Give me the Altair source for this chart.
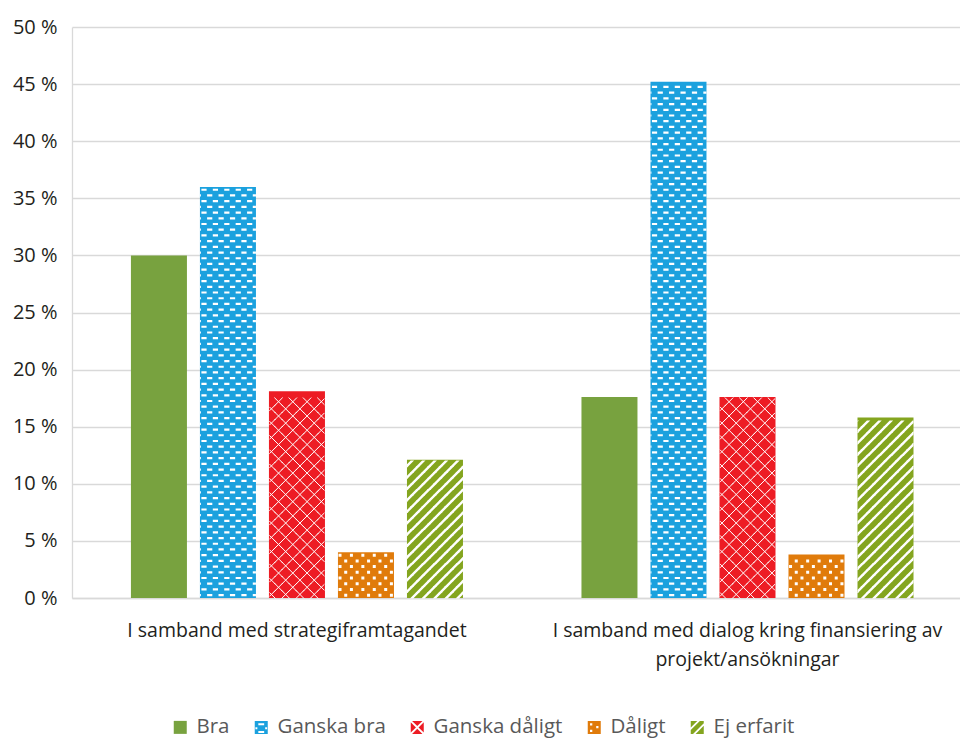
import math

import altair as alt
import pandas as pd

# ---------------------------------------------------------------- data
grupper = [
    "I samband med strategiframtagandet",
    "I samband med dialog kring finansiering av projekt/ansökningar",
]
grupp_rader = [
    ["I samband med strategiframtagandet"],
    ["I samband med dialog kring finansiering av", "projekt/ansökningar"],
]
kategorier = ["Bra", "Ganska bra", "Ganska dåligt", "Dåligt", "Ej erfarit"]
andel_strategi = [30.0, 36.0, 18.1, 4.0, 12.1]
andel_dialog = [17.6, 45.2, 17.6, 3.8, 15.8]
y_ticks = [0, 5, 10, 15, 20, 25, 30, 35, 40, 45, 50]
farger = ["#78a23f", "#1ba1de", "#ed1c24", "#e07b0b", "#84a51f"]

# ---------------------------------------------------------------- layout
PLOT_W, PLOT_H = 888, 571
Y_MAX = 50
PX_PER_PCT = PLOT_H / Y_MAX
BAR_PX = 56
HALF = BAR_PX / 2
FONT = "Open Sans"

df = pd.DataFrame({
    "grupp": [g for g in grupper for _ in kategorier],
    "kategori": kategorier * len(grupper),
    "andel": andel_strategi + andel_dialog,
})


# ---------------------------------------------------------------- pattern geometry helpers
def fmt(pts, closed=True):
    s = "M" + "L".join(f"{x:.2f},{y:.2f}" for x, y in pts)
    return s + ("Z" if closed else "")


def signed_area(pts):
    return sum(p[0] * q[1] - q[0] * p[1] for p, q in zip(pts, pts[1:] + pts[:1])) / 2


def oriented(pts, positive=True):
    return pts if (signed_area(pts) > 0) == positive else pts[::-1]


def clip_poly(pts, x0, x1, y0, y1):
    def edge(poly, inside, cut):
        out = []
        for i in range(len(poly)):
            cur, prev = poly[i], poly[i - 1]
            if inside(cur):
                if not inside(prev):
                    out.append(cut(prev, cur))
                out.append(cur)
            elif inside(prev):
                out.append(cut(prev, cur))
        return out

    def cut_x(xc):
        return lambda p, q: (xc, p[1] + (q[1] - p[1]) * (xc - p[0]) / (q[0] - p[0]))

    def cut_y(yc):
        return lambda p, q: (p[0] + (q[0] - p[0]) * (yc - p[1]) / (q[1] - p[1]), yc)

    for inside, cut in [
        (lambda p: p[0] >= x0, cut_x(x0)),
        (lambda p: p[0] <= x1, cut_x(x1)),
        (lambda p: p[1] >= y0, cut_y(y0)),
        (lambda p: p[1] <= y1, cut_y(y1)),
    ]:
        if not pts:
            break
        pts = edge(pts, inside, cut)
    return pts


def clip_segment(a, b, x0, x1):
    (ax, ay), (bx, by) = a, b
    if ax > bx:
        (ax, ay), (bx, by) = (bx, by), (ax, ay)
    if bx < x0 or ax > x1:
        return None

    def at(x):
        return ay + (by - ay) * (x - ax) / (bx - ax)

    nx0, nx1 = max(ax, x0), min(bx, x1)
    return (nx0, at(nx0)), (nx1, at(nx1))


def dash_row(period, shift, w, h):
    """One row of small white rectangles across a bar."""
    parts = []
    for n in range(-8, 9):
        c = shift + n * period
        poly = clip_poly([(c - w / 2, -h / 2), (c + w / 2, -h / 2),
                          (c + w / 2, h / 2), (c - w / 2, h / 2)], -HALF, HALF, -h, h)
        if len(poly) >= 3 and abs(signed_area(poly)) > 0.2:
            parts.append(fmt(poly))
    return "".join(parts)


def stripe_row(period, shift, w, h, ext=0.4):
    """One row of rising diagonal white stripes across a bar."""
    hh = h / 2 + ext
    parts = []
    for n in range(-8, 9):
        s = shift + n * period
        poly = [(s - hh, hh), (s + w - hh, hh), (s + w + hh, -hh), (s + hh, -hh)]
        poly = clip_poly(poly, -HALF, HALF, -hh, hh)
        if len(poly) >= 3 and abs(signed_area(poly)) > 0.2:
            parts.append(fmt(poly))
    return "".join(parts)


def lattice_row(period, shift, h, ext=0.6):
    """One row of a diagonal white lattice (both diagonals) across a bar."""
    hh = h / 2 + ext
    parts = []
    for n in range(-8, 9):
        s = shift + n * period
        for a, b in [((s + hh, -hh), (s - hh, hh)), ((s - hh, -hh), (s + hh, hh))]:
            seg = clip_segment(a, b, -HALF + 0.5, HALF - 0.5)
            if seg and abs(seg[1][0] - seg[0][0]) > 0.3:
                parts.append(fmt(list(seg), closed=False))
    return "".join(parts)


# row heights of the fill patterns, in percentage points
STEP_FINE = 0.5
STEP_LATTICE = 0.625
row_fine = STEP_FINE * PX_PER_PCT
row_lattice = STEP_LATTICE * PX_PER_PCT
per_fine = 2 * row_fine
per_lattice = 2 * row_lattice

# (category, row step, parity, symbol path, filled)
stamps = []
for parity in (0, 1):
    stamps.append(("Ganska bra", STEP_FINE, parity,
                   dash_row(per_fine, 4.6 + parity * per_fine / 2, 5.2, 2.2), True))
    stamps.append(("Dåligt", STEP_FINE, parity,
                   dash_row(per_fine, 2.6 + parity * per_fine / 2, 3.0, 3.0), True))
    stamps.append(("Ej erfarit", STEP_FINE, parity,
                   stripe_row(per_fine, 1.0 + parity * per_fine / 2, 3.4, row_fine), True))
    stamps.append(("Ganska dåligt", STEP_LATTICE, parity,
                   lattice_row(per_lattice, 3.0 + parity * per_lattice / 2, row_lattice), False))

# ---------------------------------------------------------------- legend symbols (unit square)
SQ = [(-1, -1), (1, -1), (1, 1), (-1, 1)]


def rect(x0, y0, x1, y1):
    return [(x0, y0), (x1, y0), (x1, y1), (x0, y1)]


def with_holes(holes):
    return fmt(oriented(SQ, True)) + "".join(fmt(oriented(h, False)) for h in holes)


legend_paths = [
    fmt(SQ),
    with_holes([rect(-0.45, -0.62, 0.45, -0.32), rect(-0.9, -0.02, -0.6, 0.28),
                rect(0.6, -0.02, 0.9, 0.28), rect(-0.45, 0.55, 0.45, 0.85)]),
    "".join(fmt(oriented(t, True)) for t in [
        [(-0.8, -1), (0.8, -1), (0, -0.2)],
        [(1, -0.8), (1, 0.8), (0.2, 0)],
        [(0.8, 1), (-0.8, 1), (0, 0.2)],
        [(-1, 0.8), (-1, -0.8), (-0.2, 0)],
    ]),
    with_holes([rect(-0.65, -0.65, -0.3, -0.3), rect(0.3, -0.2, 0.65, 0.15),
                rect(-0.65, 0.35, -0.3, 0.7)]),
    with_holes([clip_poly([(s - 1.2, 1.2), (s + 0.4 - 1.2, 1.2), (s + 0.4 + 1.2, -1.2),
                           (s + 1.2, -1.2)], -1, 1, -1, 1) for s in (-1.0, 0.35)]),
]

# ---------------------------------------------------------------- shared encodings
label_expr_x = " : ".join(
    [f"datum.label == '{g}' ? {rader}" for g, rader in zip(grupper, grupp_rader)]
) + " : datum.label"
x_axis = alt.Axis(title=None, labelAngle=0, ticks=False, labelPadding=23,
                  labelFontSize=19.5, labelColor="#231f20", labelLineHeight=29,
                  labelLimit=0, domainColor="#d9d9d9", domainWidth=1.3,
                  labelExpr=label_expr_x, grid=False)
y_axis = alt.Axis(title=None, values=y_ticks, ticks=False, labelPadding=15,
                  labelFontSize=20, labelColor="#231f20", labelExpr="datum.value + ' %'",
                  gridColor="#d9d9d9", gridWidth=1.3, domainColor="#d9d9d9",
                  domainWidth=1.3)
x_scale = alt.Scale(domain=grupper, paddingInner=0.263, paddingOuter=0.117, align=0.559)
xo_scale = alt.Scale(domain=kategorier, paddingInner=13 / 69, paddingOuter=0)
y_scale = alt.Scale(domain=[0, Y_MAX], nice=False)
c_scale = alt.Scale(domain=kategorier, range=farger)

X = alt.X("grupp:N", scale=x_scale, axis=x_axis, sort=grupper)
XO = alt.XOffset("kategori:N", scale=xo_scale, sort=kategorier)

base = alt.Chart(df)

bars = base.mark_bar().encode(
    x=X, xOffset=XO,
    y=alt.Y("andel:Q", scale=y_scale, axis=y_axis),
    color=alt.Color("kategori:N", scale=c_scale, title=None),
)

pattern_layers = []
for kat, step, parity, path, filled in stamps:
    mark_kw = dict(shape=path, size=4, opacity=1, filled=filled)
    if filled:
        mark_kw.update(fill="white", strokeWidth=0)
    else:
        mark_kw.update(stroke="white", strokeWidth=1.0)
    layer = (
        base.transform_filter(alt.datum.kategori == kat)
        .transform_calculate(rad=f"sequence(0, floor(datum.andel / {step} + 1e-9))")
        .transform_flatten(["rad"])
        .transform_filter(f"datum.rad % 2 == {parity}")
        .transform_calculate(mitt=f"(datum.rad + 0.5) * {step}")
        .mark_point(**mark_kw)
        .encode(x=X, xOffset=XO, y=alt.Y("mitt:Q", scale=y_scale, axis=y_axis))
    )
    pattern_layers.append(layer)

legend_layer = (
    base.transform_filter("false")
    .mark_point(filled=True, opacity=1, size=169)
    .encode(
        x=X, xOffset=XO,
        y=alt.Y("andel:Q", scale=y_scale, axis=y_axis),
        color=alt.Color("kategori:N", scale=c_scale, title=None),
        shape=alt.Shape("kategori:N", scale=alt.Scale(domain=kategorier, range=legend_paths),
                        title=None),
    )
)

chart = (
    alt.layer(bars, *pattern_layers, legend_layer)
    .properties(
        width=PLOT_W, height=PLOT_H,
        autosize=alt.AutoSizeParams(type="none"),
        padding={"left": 72, "top": 27, "right": 0, "bottom": 140},
    )
    .configure(font=FONT)
    .configure_view(stroke=None)
    .configure_legend(
        orient="none", legendX=98, legendY=690, direction="horizontal",
        labelFont=FONT, labelFontSize=20.5, labelColor="#595959", labelOffset=6,
        symbolSize=169, symbolStrokeWidth=0, columnPadding=21,
    )
)

chart.save("out.html", embed_options={"renderer": "svg", "actions": False})
